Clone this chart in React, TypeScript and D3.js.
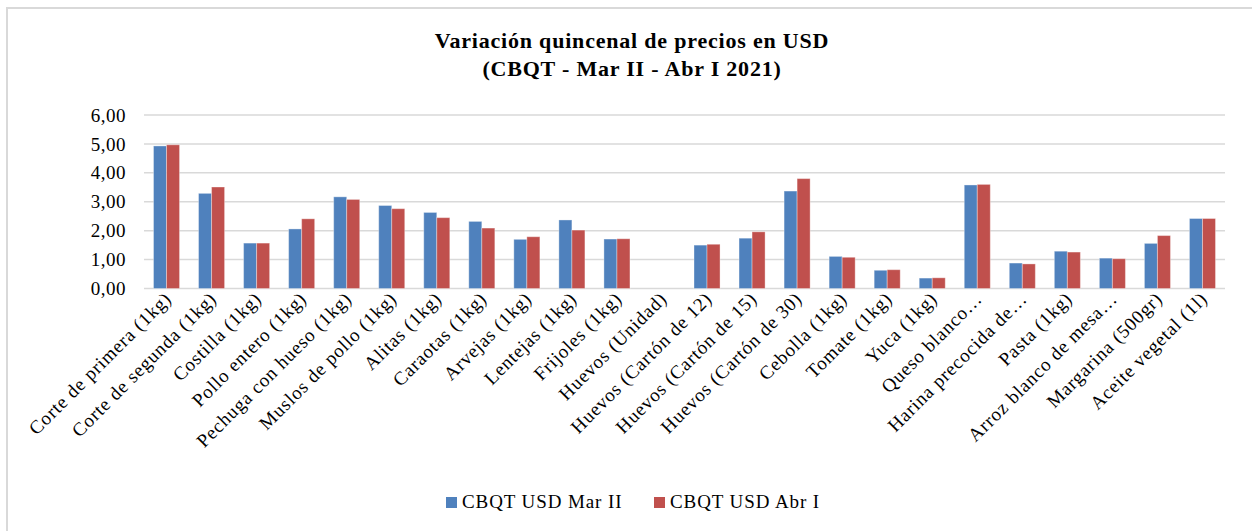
import React from "react";
import * as d3 from "d3";

// categories and values
const categories = [
  "Corte de primera (1kg)",
  "Corte de segunda (1kg)",
  "Costilla (1kg)",
  "Pollo entero (1kg)",
  "Pechuga con hueso (1kg)",
  "Muslos de pollo (1kg)",
  "Alitas (1kg)",
  "Caraotas (1kg)",
  "Arvejas (1kg)",
  "Lentejas (1kg)",
  "Frijoles (1kg)",
  "Huevos (Unidad)",
  "Huevos (Cartón de 12)",
  "Huevos (Cartón de 15)",
  "Huevos (Cartón de 30)",
  "Cebolla (1kg)",
  "Tomate (1kg)",
  "Yuca (1kg)",
  "Queso blanco…",
  "Harina precocida de…",
  "Pasta (1kg)",
  "Arroz blanco de mesa…",
  "Margarina (500gr)",
  "Aceite vegetal (1l)",
];

const marII = [
  4.93, 3.29, 1.57, 2.06, 3.17, 2.87, 2.63, 2.32, 1.7, 2.37, 1.71, 0, 1.5, 1.74,
  3.37, 1.11, 0.63, 0.36, 3.58, 0.88, 1.29, 1.05, 1.56, 2.42,
];
const abrI = [
  4.97, 3.51, 1.57, 2.41, 3.08, 2.76, 2.45, 2.09, 1.79, 2.02, 1.72, 0, 1.53, 1.96,
  3.8, 1.08, 0.65, 0.37, 3.6, 0.85, 1.26, 1.03, 1.83, 2.42,
];

const seriesNames = ["CBQT USD Mar II", "CBQT USD Abr I"];
const seriesColors = ["#4F81BD", "#C0504D"];
const yTicks = [0, 1, 2, 3, 4, 5, 6];

const W = 1252;
const H = 531;
const FONT = "'Liberation Serif', 'DejaVu Serif', serif";

export default function App() {
  const left = 144;
  const right = 1225;
  const top = 115;
  const bottom = 288.5;

  const x = d3.scaleBand<string>().domain(categories).range([left, right]).padding(0);
  const y = d3.scaleLinear().domain([0, 6]).range([bottom, top]);
  const inner = d3
    .scaleBand<string>()
    .domain(seriesNames)
    .range([0, x.bandwidth()])
    .paddingInner(0)
    .paddingOuter(0.73);

  const fmt = (v: number) => v.toFixed(2).replace(".", ",");
  const series = [marII, abrI];

  return (
    <svg
      width={W}
      height={H}
      style={{ position: "absolute", left: 0, top: 0, background: "#fff" }}
      fontFamily={FONT}
    >
      <rect x={7} y={8} width={1300} height={700} fill="#fff" stroke="#d9d9d9" strokeWidth={2} />

      <text textAnchor="middle" fontWeight="bold" fontSize={22} letterSpacing={0.8} fill="#000">
        <tspan x={632} y={48}>Variación quincenal de precios en USD</tspan>
        <tspan x={632} y={76}>(CBQT - Mar II - Abr I 2021)</tspan>
      </text>

      {/* gridlines */}
      {yTicks.map((t) => (
        <line
          key={t}
          x1={left}
          x2={right}
          y1={y(t)}
          y2={y(t)}
          stroke="#d9d9d9"
          strokeWidth={1.5}
        />
      ))}
      {yTicks.map((t) => (
        <text
          key={"l" + t}
          x={126}
          y={y(t)}
          dy="0.35em"
          textAnchor="end"
          fontSize={19}
          letterSpacing={0.5}
          fill="#000"
        >
          {fmt(t)}
        </text>
      ))}

      {/* bars */}
      {series.map((vals, si) =>
        vals.map((v, i) => {
          if (v <= 0) return null;
          const bx = (x(categories[i]) ?? 0) + (inner(seriesNames[si]) ?? 0);
          return (
            <rect
              key={si + "-" + i}
              x={bx}
              y={y(v)}
              width={inner.bandwidth()}
              height={y(0) - y(v)}
              fill={seriesColors[si]}
              stroke="#ffffff"
              strokeOpacity={0.35}
              strokeWidth={1}
            />
          );
        })
      )}

      {/* category labels */}
      {categories.map((c) => {
        const cx = (x(c) ?? 0) + x.bandwidth() / 2 + 6;
        const cy = 300;
        return (
          <text
            key={c}
            transform={`translate(${cx},${cy}) rotate(-45)`}
            textAnchor="end"
            fontSize={19}
            letterSpacing={0.8}
            fill="#000"
          >
            {c}
          </text>
        );
      })}

      {/* legend */}
      {seriesNames.map((n, i) => {
        const lx = i === 0 ? 446 : 654;
        return (
          <g key={n}>
            <rect x={lx} y={497} width={11} height={11} fill={seriesColors[i]} />
            <text x={lx + 16} y={508} fontSize={19} letterSpacing={0.9} fill="#000">
              {n}
            </text>
          </g>
        );
      })}
    </svg>
  );
}
